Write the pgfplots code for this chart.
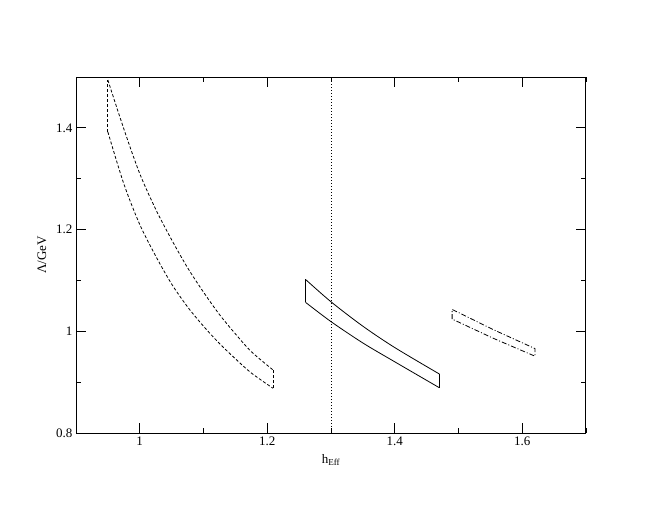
\documentclass[border=0pt]{standalone}
\usepackage{fontspec}
\setmainfont{Liberation Serif}
\usepackage{pgfplots}
\pgfplotsset{compat=1.18}
\begin{document}
\begin{tikzpicture}
\path[use as bounding box] (-76bp,-77bp) rectangle (584bp,433bp);
\begin{axis}[
  at={(0,0)}, anchor=south west,
  scale only axis, width=510bp, height=356bp,
  xmin=0.9, xmax=1.7, ymin=0.8, ymax=1.5,
  xtick={1,1.2,1.4,1.6}, minor xtick={0.9,1.1,1.3,1.5,1.7},
  ytick={0.8,1,1.2,1.4}, minor ytick={0.9,1.1,1.3,1.5},
  tick align=inside, major tick length=10bp, minor tick length=5bp,
  tick pos=both,
  tick style={black, line width=0.8bp},
  axis line style={line width=1bp},
  font=\fontsize{13bp}{15bp}\selectfont,
  /pgf/number format/assume math mode=true,
  xlabel={h\textsubscript{Eff}},
  ylabel={Λ/GeV},
  xlabel style={at={(axis description cs:0.5,-0.076)}, anchor=center},
  ylabel style={at={(axis description cs:-0.067,0.5)}, anchor=center},
  every axis plot/.append style={line join=round, mark=none, black, line width=0.8bp},
  dsh/.style={dash pattern=on 3bp off 2bp},
  dd/.style={dash pattern=on 5bp off 2bp on 1bp off 2bp},
]
% dashed band
\addplot[dsh, smooth] coordinates {
 (0.950,1.494) (0.975,1.398) (1.000,1.310) (1.025,1.240) (1.050,1.180)
 (1.075,1.125) (1.100,1.077) (1.125,1.033) (1.150,0.995) (1.175,0.960) (1.209,0.924)};
\addplot[dsh, smooth] coordinates {
 (0.950,1.392) (0.975,1.290) (1.000,1.210) (1.025,1.148) (1.050,1.093)
 (1.075,1.048) (1.100,1.010) (1.125,0.976) (1.150,0.946) (1.175,0.918) (1.209,0.888)};
\addplot[dsh] coordinates {(0.950,1.392) (0.950,1.494)};
\addplot[dsh] coordinates {(1.209,0.888) (1.209,0.924)};
% solid band
\addplot[solid, smooth] coordinates {(1.26,1.102) (1.30,1.058) (1.35,1.010) (1.40,0.968) (1.47,0.916)};
\addplot[solid, smooth] coordinates {(1.26,1.057) (1.30,1.019) (1.35,0.977) (1.40,0.940) (1.47,0.889)};
\addplot[solid] coordinates {(1.26,1.057) (1.26,1.102)};
\addplot[solid] coordinates {(1.47,0.889) (1.47,0.916)};
% dash-dot band
\addplot[dd] coordinates {
 (1.49,1.024) (1.49,1.043) (1.555,1.003) (1.62,0.966)
 (1.62,0.951) (1.555,0.986) (1.49,1.024)};
% dotted vertical line
\addplot[dash pattern=on 1bp off 2bp] coordinates {(1.3,0.8) (1.3,1.5)};
\end{axis}
\end{tikzpicture}
\end{document}
